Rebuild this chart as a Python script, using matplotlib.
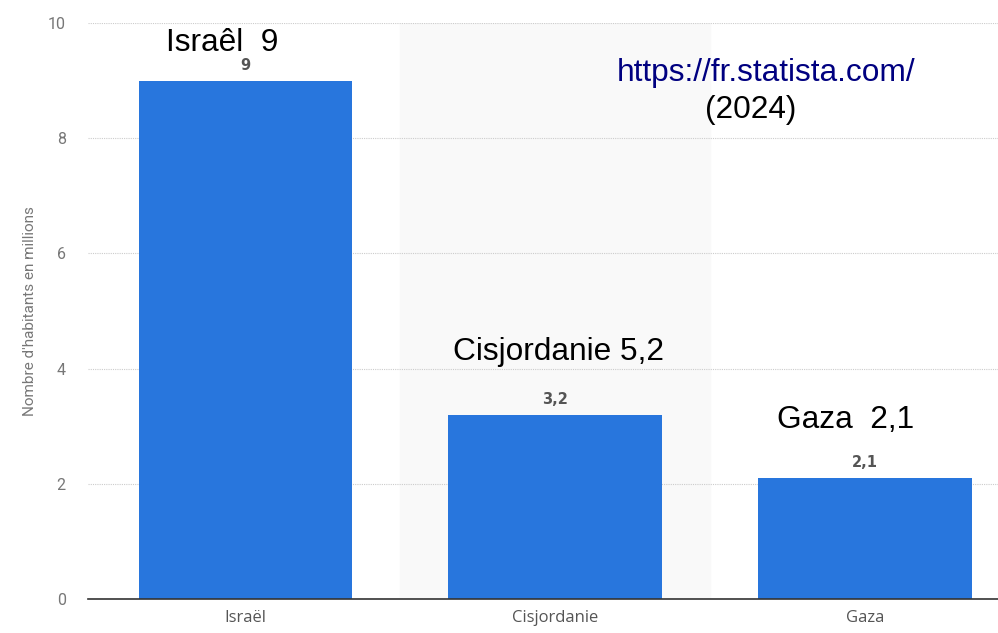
import matplotlib.pyplot as plt

## data ##
regions = ['Israël', 'Cisjordanie', 'Gaza']
population = [9, 3.2, 2.1]
value_labels = ['9', '3,2', '2,1']
yticks = [0, 2, 4, 6, 8, 10]

## plot ##
fig = plt.figure(figsize=(9.98, 6.33), dpi=100)
ax = fig.add_axes([0.0882, 0.0537, 0.9118, 0.91])

x = range(len(regions))
ax.axvspan(0.5, 1.5, color='#f9f9f9', zorder=0)
ax.bar(x, population, width=0.69, color='#2876dd', zorder=3)

for i, (v, lab) in enumerate(zip(population, value_labels)):
    ax.text(i, v + 0.14, lab, ha='center', va='bottom', fontsize=10.5,
            fontweight='bold', color='#555555', family='DejaVu Sans')

ax.set_xlim(-0.508, 2.43)
ax.set_ylim(0, 10)
ax.set_yticks(yticks)
ax.set_xticks(list(x))
ax.set_xticklabels(regions, family='Open Sans', fontsize=12, color='#555555')
ax.set_yticklabels([str(t) for t in yticks], family='Roboto', fontsize=11.5, color='#777777')
ax.tick_params(axis='both', length=0)
ax.tick_params(axis='y', pad=16)
ax.tick_params(axis='x', pad=8)
ax.grid(axis='y', linestyle=(0, (1, 1)), color='#cccccc', linewidth=0.8, zorder=1)
for s in ['top', 'right', 'left']:
    ax.spines[s].set_visible(False)
ax.spines['bottom'].set_color('#333333')
ax.spines['bottom'].set_linewidth(1.2)
ax.spines['bottom'].set_zorder(4)
ax.set_ylabel("Nombre d'habitants en millions", family='Roboto', fontsize=11,
              color='#777777', labelpad=8)

# annotations
big = dict(family='Liberation Sans', fontsize=22.8, ha='center', va='center')
ax.text(-0.076, 9.66, 'Israêl  9', color='black', **big)
ax.text(1.011, 4.29, 'Cisjordanie 5,2', color='black', **big)
ax.text(1.937, 3.11, 'Gaza  2,1', color='black', **big)
ax.text(1.682, 9.13, 'https://fr.statista.com/', color='#000080', **big)
ax.text(1.631, 8.49, '(2024)', color='black', **big)

plt.savefig('out.png', dpi=100)
